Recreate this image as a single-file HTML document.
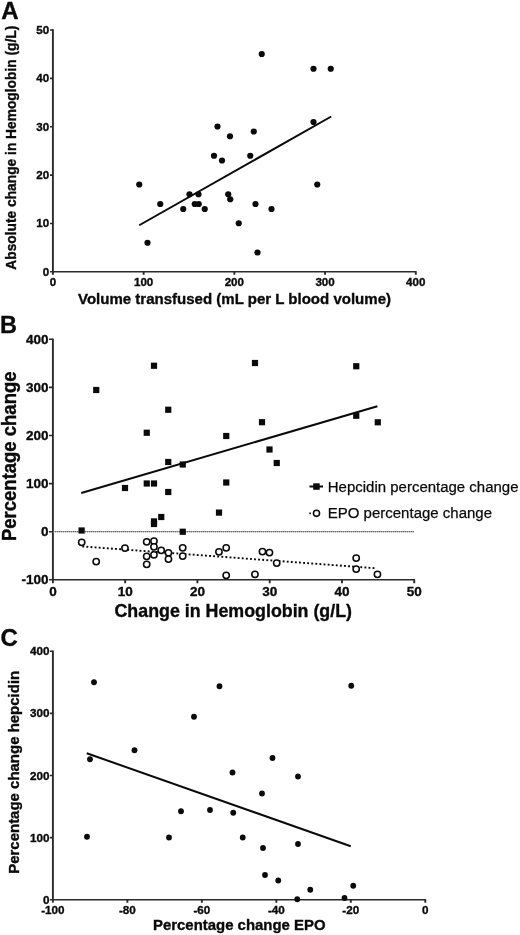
<!DOCTYPE html>
<html><head><meta charset="utf-8"><title>Figure</title>
<style>html,body{margin:0;padding:0;background:#fff}svg{display:block;will-change:transform}text{font-family:"Liberation Sans",sans-serif;fill:#0a0a0a}.b{font-weight:bold;stroke:#0a0a0a;stroke-width:0.35}.av{stroke:#2a2a2a;stroke-width:1.9;fill:none}.ah{stroke:#2a2a2a;stroke-width:1.6;fill:none}.ln{stroke:#0a0a0a;stroke-width:2;fill:none;stroke-linecap:butt}.d{fill:#0a0a0a}.o{fill:#fff;stroke:#0a0a0a;stroke-width:1.55}</style></head><body>
<svg width="520" height="935" viewBox="0 0 520 935">
<rect width="520" height="935" fill="#fff"/>
<!-- Panel A -->
<text class="b" font-size="24" x="1.2" y="18.7">A</text>
<path class="av" d="M52.9 29.25V274.8"/>
<path class="ah" d="M50.0 271.8H416.58"/>
<path class="ah" d="M50.0 223.44H52.9M50.0 175.08H52.9M50.0 126.72H52.9M50.0 78.36H52.9M50.0 30.0H52.9"/>
<path class="av" d="M143.62 271.8V274.8M234.34 271.8V274.8M325.06 271.8V274.8M415.78 271.8V274.8"/>
<text class="b" font-size="11.6" text-anchor="end" x="49.2" y="275.80">0</text>
<text class="b" font-size="11.6" text-anchor="end" x="49.2" y="227.44">10</text>
<text class="b" font-size="11.6" text-anchor="end" x="49.2" y="179.08">20</text>
<text class="b" font-size="11.6" text-anchor="end" x="49.2" y="130.72">30</text>
<text class="b" font-size="11.6" text-anchor="end" x="49.2" y="82.36">40</text>
<text class="b" font-size="11.6" text-anchor="end" x="49.2" y="34.00">50</text>
<text class="b" font-size="11.6" text-anchor="middle" x="52.9" y="286.4">0</text>
<text class="b" font-size="11.6" text-anchor="middle" x="143.62" y="286.4">100</text>
<text class="b" font-size="11.6" text-anchor="middle" x="234.34" y="286.4">200</text>
<text class="b" font-size="11.6" text-anchor="middle" x="325.06" y="286.4">300</text>
<text class="b" font-size="11.6" text-anchor="middle" x="415.78" y="286.4">400</text>
<text class="b" font-size="15.2" x="78" y="303.5" textLength="313" lengthAdjust="spacingAndGlyphs">Volume transfused (mL per L blood volume)</text>
<text class="b" font-size="14" transform="translate(15.8 269.7) rotate(-90)" textLength="244" lengthAdjust="spacingAndGlyphs">Absolute change in Hemoglobin (g/L)</text>
<g class="d"><circle cx="261.75" cy="54" r="3.1"/><circle cx="313.5" cy="68.75" r="3.1"/><circle cx="330.75" cy="68.75" r="3.1"/><circle cx="313.5" cy="122" r="3.1"/><circle cx="217.5" cy="126.5" r="3.1"/><circle cx="230" cy="136.25" r="3.1"/><circle cx="253.75" cy="131.5" r="3.1"/><circle cx="214" cy="155.75" r="3.1"/><circle cx="222" cy="160.5" r="3.1"/><circle cx="250.25" cy="155.75" r="3.1"/><circle cx="317.25" cy="184.5" r="3.1"/><circle cx="139.25" cy="184.5" r="3.1"/><circle cx="160.25" cy="204" r="3.1"/><circle cx="189.5" cy="194.25" r="3.1"/><circle cx="198.5" cy="194.25" r="3.1"/><circle cx="194.75" cy="204" r="3.1"/><circle cx="198.75" cy="204" r="3.1"/><circle cx="183.25" cy="209" r="3.1"/><circle cx="204.75" cy="209" r="3.1"/><circle cx="228.25" cy="194.25" r="3.1"/><circle cx="230.25" cy="199.25" r="3.1"/><circle cx="255.5" cy="204" r="3.1"/><circle cx="271.5" cy="209" r="3.1"/><circle cx="238.75" cy="223.25" r="3.1"/><circle cx="147.5" cy="242.75" r="3.1"/><circle cx="257.5" cy="252.5" r="3.1"/></g>
<path class="ln" d="M139.25 225.25L331.25 116.5"/>
<!-- Panel B -->
<text class="b" font-size="23.5" x="0.1" y="332.8">B</text>
<path class="av" d="M52.9 338.55V583.2"/>
<path class="ah" d="M49.0 579.8H415.05"/>
<path class="ah" d="M49.0 531.7H52.9M49.0 483.6H52.9M49.0 435.5H52.9M49.0 387.4H52.9M49.0 339.3H52.9"/>
<path class="av" d="M125.17 579.8V583.2M197.44 579.8V583.2M269.71 579.8V583.2M341.98 579.8V583.2M414.25 579.8V583.2"/>
<text class="b" font-size="13.5" text-anchor="end" x="48.6" y="584.40">-100</text>
<text class="b" font-size="13.5" text-anchor="end" x="48.6" y="536.30">0</text>
<text class="b" font-size="13.5" text-anchor="end" x="48.6" y="488.20">100</text>
<text class="b" font-size="13.5" text-anchor="end" x="48.6" y="440.10">200</text>
<text class="b" font-size="13.5" text-anchor="end" x="48.6" y="392.00">300</text>
<text class="b" font-size="13.5" text-anchor="end" x="48.6" y="343.90">400</text>
<text class="b" font-size="13.5" text-anchor="middle" x="52.9" y="596.1">0</text>
<text class="b" font-size="13.5" text-anchor="middle" x="125.17" y="596.1">10</text>
<text class="b" font-size="13.5" text-anchor="middle" x="197.44" y="596.1">20</text>
<text class="b" font-size="13.5" text-anchor="middle" x="269.71" y="596.1">30</text>
<text class="b" font-size="13.5" text-anchor="middle" x="341.98" y="596.1">40</text>
<text class="b" font-size="13.5" text-anchor="middle" x="414.25" y="596.1">50</text>
<path d="M53 531.65H414" stroke="#a6a6a6" stroke-width="1.3" fill="none"/>
<path d="M53 531.65H414" stroke="#6a6a6a" stroke-width="1.3" stroke-dasharray="1 1" fill="none"/>
<text class="b" font-size="17.7" x="114.5" y="616.8" textLength="237.5" lengthAdjust="spacingAndGlyphs">Change in Hemoglobin (g/L)</text>
<text class="b" font-size="19.3" transform="translate(15.9 541) rotate(-90)" textLength="169.5" lengthAdjust="spacingAndGlyphs">Percentage change</text>
<path class="ln" d="M81.25 493L377.4 406.2"/>
<path d="M82.3 546.44L374.6 568.15" stroke="#0a0a0a" stroke-width="1.9" stroke-dasharray="1.9 2.2" fill="none"/>
<g class="d"><rect x="78.50" y="527.40" width="6.2" height="6.2"/><rect x="93.15" y="386.90" width="6.2" height="6.2"/><rect x="121.90" y="484.90" width="6.2" height="6.2"/><rect x="143.65" y="429.65" width="6.2" height="6.2"/><rect x="143.65" y="480.40" width="6.2" height="6.2"/><rect x="150.90" y="362.65" width="6.2" height="6.2"/><rect x="150.90" y="480.40" width="6.2" height="6.2"/><rect x="150.90" y="518.30" width="6.2" height="6.2"/><rect x="150.90" y="520.90" width="6.2" height="6.2"/><rect x="158.15" y="513.90" width="6.2" height="6.2"/><rect x="165.15" y="406.65" width="6.2" height="6.2"/><rect x="165.15" y="458.90" width="6.2" height="6.2"/><rect x="165.15" y="488.90" width="6.2" height="6.2"/><rect x="179.65" y="461.40" width="6.2" height="6.2"/><rect x="179.65" y="528.65" width="6.2" height="6.2"/><rect x="215.90" y="509.50" width="6.2" height="6.2"/><rect x="223.15" y="432.90" width="6.2" height="6.2"/><rect x="223.15" y="479.40" width="6.2" height="6.2"/><rect x="251.90" y="359.90" width="6.2" height="6.2"/><rect x="258.90" y="419.10" width="6.2" height="6.2"/><rect x="266.40" y="446.40" width="6.2" height="6.2"/><rect x="273.65" y="459.90" width="6.2" height="6.2"/><rect x="353.15" y="363.15" width="6.2" height="6.2"/><rect x="353.15" y="412.65" width="6.2" height="6.2"/><rect x="374.70" y="419.20" width="6.2" height="6.2"/></g>
<g class="o"><circle cx="81.70" cy="542.35" r="3.15"/><circle cx="96.20" cy="561.60" r="3.15"/><circle cx="124.95" cy="548.10" r="3.15"/><circle cx="146.70" cy="541.85" r="3.15"/><circle cx="153.95" cy="541.10" r="3.15"/><circle cx="153.95" cy="546.85" r="3.15"/><circle cx="146.70" cy="556.35" r="3.15"/><circle cx="153.95" cy="554.85" r="3.15"/><circle cx="146.70" cy="564.35" r="3.15"/><circle cx="161.20" cy="550.35" r="3.15"/><circle cx="168.45" cy="552.85" r="3.15"/><circle cx="168.45" cy="559.10" r="3.15"/><circle cx="182.70" cy="547.85" r="3.15"/><circle cx="182.70" cy="556.10" r="3.15"/><circle cx="218.95" cy="551.85" r="3.15"/><circle cx="226.20" cy="547.85" r="3.15"/><circle cx="226.20" cy="575.35" r="3.15"/><circle cx="262.45" cy="551.60" r="3.15"/><circle cx="269.45" cy="552.60" r="3.15"/><circle cx="276.70" cy="563.10" r="3.15"/><circle cx="254.95" cy="574.35" r="3.15"/><circle cx="356.20" cy="558.10" r="3.15"/><circle cx="356.20" cy="569.10" r="3.15"/><circle cx="377.45" cy="574.35" r="3.15"/></g>
<path class="ln" d="M309.5 486.5H323"/>
<rect class="d" x="313.2" y="483.3" width="6.5" height="6.5"/>
<text font-size="15.2" stroke="#0a0a0a" stroke-width="0.25" x="327.8" y="491.6" textLength="190.7" lengthAdjust="spacingAndGlyphs">Hepcidin percentage change</text>
<rect class="d" x="309.3" y="512.5" width="1.6" height="1.7"/>
<circle class="o" cx="316.5" cy="513.35" r="3.05"/>
<text font-size="15.2" stroke="#0a0a0a" stroke-width="0.25" x="327.8" y="518.3" textLength="164.2" lengthAdjust="spacingAndGlyphs">EPO percentage change</text>
<!-- Panel C -->
<text class="b" font-size="24" x="0.6" y="646.1">C</text>
<path class="av" d="M52.9 650.52V902.65"/>
<path class="ah" d="M49.9 899.75H426.1"/>
<path class="ah" d="M49.9 837.63H52.9M49.9 775.51H52.9M49.9 713.39H52.9M49.9 651.27H52.9"/>
<path class="av" d="M127.38 899.75V902.65M201.86 899.75V902.65M276.34 899.75V902.65M350.82 899.75V902.65M425.3 899.75V902.65"/>
<text class="b" font-size="11.7" text-anchor="end" x="49.4" y="903.85">0</text>
<text class="b" font-size="11.7" text-anchor="end" x="49.4" y="841.73">100</text>
<text class="b" font-size="11.7" text-anchor="end" x="49.4" y="779.61">200</text>
<text class="b" font-size="11.7" text-anchor="end" x="49.4" y="717.49">300</text>
<text class="b" font-size="11.7" text-anchor="end" x="49.4" y="655.37">400</text>
<text class="b" font-size="11.7" text-anchor="middle" x="52.9" y="913.5">-100</text>
<text class="b" font-size="11.7" text-anchor="middle" x="127.38" y="913.5">-80</text>
<text class="b" font-size="11.7" text-anchor="middle" x="201.86" y="913.5">-60</text>
<text class="b" font-size="11.7" text-anchor="middle" x="276.34" y="913.5">-40</text>
<text class="b" font-size="11.7" text-anchor="middle" x="350.82" y="913.5">-20</text>
<text class="b" font-size="11.7" text-anchor="middle" x="425.3" y="913.5">0</text>
<text class="b" font-size="15.3" x="153" y="930.1" textLength="172.5" lengthAdjust="spacingAndGlyphs">Percentage change EPO</text>
<text class="b" font-size="15.1" transform="translate(19 873.8) rotate(-90)" textLength="203" lengthAdjust="spacingAndGlyphs">Percentage change hepcidin</text>
<g class="d"><circle cx="94" cy="682.25" r="2.9"/><circle cx="219.5" cy="686.25" r="2.9"/><circle cx="351.25" cy="685.75" r="2.9"/><circle cx="194" cy="716.75" r="2.9"/><circle cx="134.5" cy="750.25" r="2.9"/><circle cx="90" cy="759.25" r="2.9"/><circle cx="272.5" cy="758" r="2.9"/><circle cx="232.5" cy="772.5" r="2.9"/><circle cx="298" cy="776.5" r="2.9"/><circle cx="262" cy="793.5" r="2.9"/><circle cx="181" cy="811.25" r="2.9"/><circle cx="210" cy="810" r="2.9"/><circle cx="233.25" cy="812.75" r="2.9"/><circle cx="169" cy="837.5" r="2.9"/><circle cx="242.75" cy="837.5" r="2.9"/><circle cx="87" cy="836.75" r="2.9"/><circle cx="263" cy="848" r="2.9"/><circle cx="298" cy="844" r="2.9"/><circle cx="265" cy="875" r="2.9"/><circle cx="278.25" cy="880.5" r="2.9"/><circle cx="310.25" cy="889.75" r="2.9"/><circle cx="297.25" cy="899.25" r="2.9"/><circle cx="353.25" cy="885.75" r="2.9"/><circle cx="344.5" cy="898" r="2.9"/></g>
<path class="ln" d="M86.75 753.25L350.75 846.25"/>
</svg></body></html>
